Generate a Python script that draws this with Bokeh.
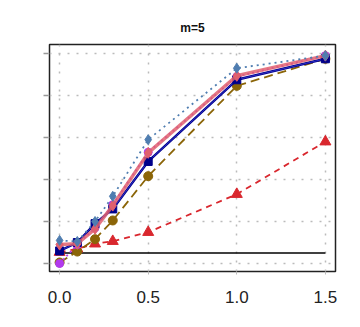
from bokeh.plotting import figure
from bokeh.models import Range1d, FixedTicker, Title
from bokeh.embed import file_html
from bokeh.resources import INLINE

x = [0.0, 0.1, 0.2, 0.3, 0.5, 1.0, 1.5]
steel = [0.11, 0.105, 0.20, 0.32, 0.59, 0.93, 0.99]
navy = [0.06, 0.10, 0.19, 0.26, 0.486, 0.875, 0.975]
pink = [0.09, 0.094, 0.165, 0.276, 0.527, 0.894, 0.99]
brown = [0.005, 0.057, 0.116, 0.205, 0.416, 0.846, 0.975]
red = [0.054, 0.07, 0.094, 0.106, 0.149, 0.33, 0.58]
purple = [0.0, 0.09, 0.17, 0.28, 0.53, 0.89, 0.99]
alpha_level = 0.05
x_ticks = [0.0, 0.5, 1.0, 1.5]
y_ticks = [0.0, 0.2, 0.4, 0.6, 0.8, 1.0]
title_text = "m=5"

FONT = "Liberation Sans"

p = figure(width=352, height=319, output_backend="svg", toolbar_location=None,
           x_range=Range1d(-0.057, 1.557), y_range=Range1d(-0.038, 1.043),
           title=None, min_border_left=49, min_border_right=17,
           min_border_top=44, min_border_bottom=48)

# spacer (closest to the frame) then the real title
p.add_layout(Title(text=" ", text_font_size="6px", standoff=0), "above")
p.add_layout(Title(text=title_text, align="center", text_font=FONT,
                   text_font_size="12px", text_font_style="bold",
                   text_color="#111111", standoff=4), "above")

p.outline_line_color = "#222222"
p.outline_line_width = 1.5

# axes
p.xaxis.ticker = FixedTicker(ticks=x_ticks)
p.xaxis.major_label_overrides = {0.0: "0.0", 0.5: "0.5", 1.0: "1.0", 1.5: "1.5"}
p.xaxis.axis_line_color = None
p.xaxis.major_tick_line_color = "#BBBBBB"
p.xaxis.major_tick_out = 3
p.xaxis.major_tick_in = 0
p.xaxis.minor_tick_line_color = None
p.xaxis.major_label_text_font = FONT
p.xaxis.major_label_text_font_size = "17px"
p.xaxis.major_label_text_color = "#222222"
p.xaxis.major_label_standoff = 16

p.yaxis.ticker = FixedTicker(ticks=y_ticks)
p.yaxis.major_label_overrides = {t: "" for t in y_ticks}
p.yaxis.axis_line_color = None
p.yaxis.major_tick_line_color = "#999999"
p.yaxis.major_tick_line_width = 1.5
p.yaxis.major_tick_out = 6
p.yaxis.major_tick_in = -1
p.yaxis.minor_tick_line_color = None

for g in (p.xgrid, p.ygrid):
    g.grid_line_color = "#BBBBBB"
    g.grid_line_dash = "2 7"
    g.grid_line_width = 1.5

# reference line
p.line([x[0], x[-1]], [alpha_level, alpha_level], color="black", line_width=1.3)

# series
p.line(x, red, color="#D9272E", line_width=1.8, line_dash="6 5")
p.scatter(x, red, marker="triangle", size=11, color="#D9272E")

p.line(x, brown, color="#8B6508", line_width=1.8, line_dash="9 5")
p.scatter(x, brown, marker="circle", size=9, color="#8B6508")

p.line(x, purple, color="#B23AEE", line_width=1.8, line_dash="2 3")
p.scatter(x, purple, marker="circle", size=8, color="#B23AEE")

p.line(x, navy, color="#00008B", line_width=2.4)
p.line(x, navy, color="#3A3AD0", line_width=0.8)
p.scatter(x, navy, marker="square", size=8, color="#00008B")

p.line(x, pink, color="#E0606E", line_width=3.5, alpha=0.85)
p.scatter(x, pink, marker="diamond", size=11, color="#E0606E")

p.line(x, steel, color="#4F7DB0", line_width=1.8, line_dash="2 4")
p.scatter(x, steel, marker="diamond", size=10, color="#4F7DB0")

open("out.html", "w").write(file_html(p, INLINE))
